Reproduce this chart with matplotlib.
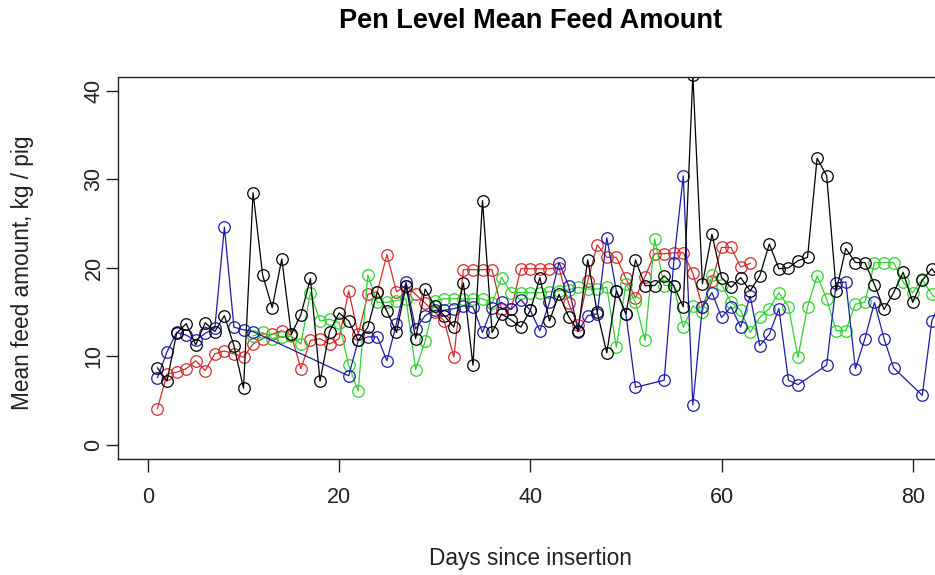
import numpy as np
import matplotlib
matplotlib.use("Agg")
import matplotlib.pyplot as plt

plt.rcParams['font.family'] = ['Liberation Sans', 'DejaVu Sans']

# ---- data ----
black_days = list(range(1, 84))
black_vals = [8.7, 7.2, 12.6, 13.7, 11.3, 13.8, 12.8, 14.6, 11.2, 6.4,
              28.5, 19.2, 15.5, 21.0, 12.5, 14.7, 18.8, 7.2, 12.8, 14.9,
              14.0, 11.8, 13.3, 17.3, 15.1, 12.7, 18.0, 12.0, 17.6, 15.7,
              14.6, 13.3, 18.3, 9.0, 27.6, 12.7, 14.8, 14.1, 13.3, 15.2,
              18.9, 14.0, 17.0, 14.5, 12.9, 20.9, 15.0, 10.4, 17.4, 14.8,
              20.9, 18.0, 18.0, 19.1, 18.0, 15.6, 41.8, 18.2, 23.8, 18.9,
              17.8, 18.9, 17.4, 19.1, 22.7, 19.9, 20.0, 20.8, 21.2, 32.4,
              30.4, 17.4, 22.2, 20.6, 20.6, 18.1, 15.3, 17.2, 19.5, 16.1,
              18.6, 19.9, 18.5]

red_days = list(range(1, 64))
red_vals = [4.1, 8.0, 8.2, 8.6, 9.5, 8.4, 10.3, 10.6, 10.3, 9.9,
            11.4, 12.0, 12.5, 12.9, 12.4, 8.6, 11.8, 12.0, 11.4, 12.0,
            17.4, 12.5, 17.0, 17.3, 21.5, 17.3, 18.0, 17.0, 16.0, 15.0,
            14.0, 9.9, 19.8, 19.8, 19.8, 19.8, 15.3, 15.3, 19.9, 19.9,
            19.9, 19.9, 20.0, 16.0, 13.5, 18.5, 22.6, 21.2, 21.2, 18.8,
            16.6, 19.0, 21.6, 21.6, 21.7, 21.7, 19.4, 15.6, 18.5, 22.3,
            22.3, 20.1, 20.5]

green_days = list(range(11, 84))
green_vals = [12.3, 12.7, 12.0, 12.2, 12.3, 11.4, 17.2, 14.0, 14.2, 13.8,
              9.0, 6.1, 19.2, 16.1, 16.1, 16.3, 16.5, 8.5, 11.7, 16.3,
              16.5, 16.5, 16.5, 16.5, 16.5, 16.0, 18.9, 17.2, 17.2, 17.2,
              17.2, 17.3, 17.4, 17.5, 17.8, 17.6, 17.6, 17.8, 11.0, 18.2,
              16.1, 11.8, 23.3, 18.0, 18.0, 13.3, 15.7, 15.0, 19.2, 18.1,
              16.1, 15.2, 12.7, 14.4, 15.4, 17.2, 15.6, 9.9, 15.6, 19.1,
              16.5, 12.9, 12.9, 15.9, 16.1, 20.6, 20.6, 20.6, 18.4, 17.2,
              18.7, 17.0, 16.0]

blue_days = [1, 2, 3, 4, 5, 6, 7, 8, 9, 10, 11,
             21, 22, 23, 24, 25, 26, 27, 28, 29, 30,
             31, 32, 33, 34, 35, 36, 37, 38, 39, 40,
             41, 42, 43, 44, 45, 46, 47, 48, 49, 50,
             51, 54, 55, 56, 57, 58, 59, 60,
             61, 62, 63, 64, 65, 66, 67, 68,
             71, 72, 73, 74, 75, 76, 77, 78, 81, 82, 83]
blue_vals = [7.6, 10.5, 12.7, 12.4, 11.8, 12.6, 13.2, 24.6, 13.3, 13.0, 12.8,
             7.8, 11.8, 12.2, 12.2, 9.5, 13.7, 18.4, 13.1, 14.6, 15.2,
             15.2, 15.4, 15.7, 15.6, 12.7, 15.5, 16.1, 15.3, 16.4, 15.2,
             12.9, 16.1, 20.6, 18.0, 12.8, 14.6, 14.8, 23.4, 17.4, 14.8,
             6.5, 7.3, 20.6, 30.4, 4.5, 15.6, 17.2, 14.4,
             15.6, 13.3, 16.8, 11.2, 12.5, 15.4, 7.3, 6.8,
             9.0, 18.3, 18.4, 8.6, 12.0, 16.1, 12.0, 8.7, 5.6, 14.0, 16.5]

x_ticks = [0, 20, 40, 60, 80]
y_ticks = [0, 10, 20, 30, 40]

title = "Pen Level Mean Feed Amount"
xlabel = "Days since insertion"
ylabel = "Mean feed amount, kg / pig"

# ---- figure ----
W, H = 935, 575
fig = plt.figure(figsize=(W / 100, H / 100), dpi=100)
ax_l, ax_r, ax_t, ax_b = 117.6, 935, 76.7, 459
ax = fig.add_axes([ax_l / W, 1 - ax_b / H, (ax_r - ax_l) / W, (ax_b - ax_t) / H])

style = dict(marker='o', markerfacecolor='none', markersize=8.3,
             markeredgewidth=0.9, linewidth=0.9)
ax.plot(red_days, red_vals, color='#D42C2C', **style)
ax.plot(green_days, green_vals, color='#2FD22F', **style)
ax.plot(blue_days, blue_vals, color='#1C1CA8', **style)
ax.plot(black_days, black_vals, color='black', **style)

ax.set_xlim(-3.17, 82.33)
ax.set_ylim(-1.6, 41.6)

ax.spines['right'].set_visible(False)
for s in ['left', 'top', 'bottom']:
    ax.spines[s].set_linewidth(1.0)
    ax.spines[s].set_color('#222222')

ax.set_xticks(x_ticks)
ax.set_yticks(y_ticks)
ax.tick_params(axis='both', direction='out', length=9, width=1.0,
               color='#222222', labelsize=15.5, labelcolor='#222222')
ax.tick_params(axis='x', pad=11)
ax.tick_params(axis='y', pad=0.5)
for lab in ax.get_yticklabels():
    lab.set_rotation(90)
    lab.set_va('center')

fig.text(531 / W, 1 - 21 / H, title, ha='center', va='center',
         fontsize=19.5, fontweight='bold', color='black')
fig.text(530 / W, 1 - 559 / H, xlabel, ha='center', va='center',
         fontsize=16.3, color='#222222')
fig.text(23 / W, 1 - 273 / H, ylabel, ha='center', va='center',
         fontsize=16.3, rotation=90, color='#222222')

fig.savefig('out.png', dpi=100)
